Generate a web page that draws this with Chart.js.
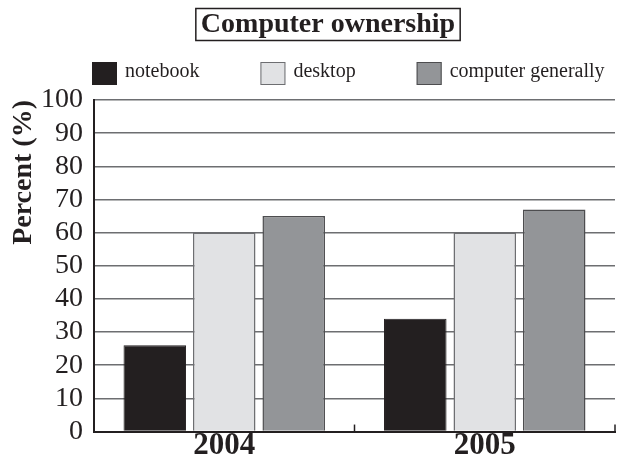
<!DOCTYPE html>
<html lang="en">
<head>
  <meta charset="UTF-8" />
  <title>Computer ownership</title>
  <script src="https://cdn.jsdelivr.net/npm/chart.js"></script>
  <style>
    html, body { margin: 0; padding: 0; background: #fff; }
    #wrap { width: 617px; height: 461px; }
  </style>
</head>
<body>
  <div id="wrap"><canvas id="ownershipChart"></canvas></div>

  <script>
    // Data
    const years = ['2004', '2005'];
    const notebook = [26, 34];
    const desktop = [60, 60];
    const computerGenerally = [65, 67];
    const yTicks = [0, 10, 20, 30, 40, 50, 60, 70, 80, 90, 100];

    const serif = "'Liberation Serif', 'DejaVu Serif', serif";
    const ink = '#231f20';

    // Boxed title and a single-row legend above the plot
    const header = {
      id: 'header',
      afterDraw(chart) {
        const ctx = chart.ctx;
        const area = chart.chartArea;
        ctx.save();

        // title
        const text = 'Computer ownership';
        const cx = 328;
        ctx.font = 'bold 28px ' + serif;
        ctx.fillStyle = ink;
        ctx.textAlign = 'center';
        ctx.textBaseline = 'middle';
        ctx.fillText(text, cx, 25);
        const w = ctx.measureText(text).width + 10;
        ctx.strokeStyle = ink;
        ctx.lineWidth = 1.5;
        ctx.strokeRect(cx - w / 2, 8.5, w, 32);

        // legend
        const boxW = 25, boxH = 23, gap = 61, top = 62;
        let x = area.left - 2;
        ctx.font = '20px ' + serif;
        ctx.textAlign = 'left';
        chart.data.datasets.forEach(ds => {
          ctx.fillStyle = ds.backgroundColor;
          ctx.fillRect(x, top, boxW, boxH);
          ctx.strokeStyle = ds.borderColor;
          ctx.lineWidth = 1;
          ctx.strokeRect(x + 0.5, top + 0.5, boxW - 1, boxH - 1);
          ctx.fillStyle = ink;
          ctx.fillText(ds.label, x + boxW + 8, top + boxH / 2 - 2);
          x += boxW + 8 + ctx.measureText(ds.label).width + gap;
        });
        ctx.restore();
      }
    };

    // Small upward ticks at the right edge of each year group
    const groupTicks = {
      id: 'groupTicks',
      afterDatasetsDraw(chart) {
        const x = chart.scales.x;
        const ctx = chart.ctx;
        const half = (x.getPixelForValue(1) - x.getPixelForValue(0)) / 2;
        ctx.save();
        ctx.strokeStyle = ink;
        ctx.lineWidth = 1.5;
        years.forEach((y, i) => {
          const px = x.getPixelForValue(i) + half;
          ctx.beginPath();
          ctx.moveTo(px, x.top);
          ctx.lineTo(px, x.top - 7);
          ctx.stroke();
        });
        ctx.restore();
      }
    };

    const ctx = document.getElementById('ownershipChart').getContext('2d');
    new Chart(ctx, {
      type: 'bar',
      data: {
        labels: years,
        datasets: [
          {
            label: 'notebook',
            data: notebook,
            backgroundColor: ink,
            borderColor: ink,
            borderWidth: 1
          },
          {
            label: 'desktop',
            data: desktop,
            backgroundColor: '#e1e2e4',
            borderColor: '#6d6e71',
            borderWidth: 1.5
          },
          {
            label: 'computer generally',
            data: computerGenerally,
            backgroundColor: '#939598',
            borderColor: '#4d4d4f',
            borderWidth: 1.5
          }
        ]
      },
      options: {
        responsive: true,
        maintainAspectRatio: false,
        animation: false,
        categoryPercentage: 0.8,
        barPercentage: 0.9,
        layout: { padding: { top: 100, right: 2, left: 0, bottom: 0 } },
        plugins: {
          title: { display: false },
          tooltip: { enabled: false },
          legend: { display: false }
        },
        scales: {
          x: {
            grid: { display: false, drawTicks: false },
            border: { display: true, color: ink, width: 2 },
            ticks: {
              color: ink,
              padding: 0,
              font: { family: serif, size: 31, weight: 'bold', lineHeight: 0.95 }
            }
          },
          y: {
            min: 0,
            max: 100,
            afterBuildTicks(scale) {
              scale.ticks = yTicks.map(v => ({ value: v }));
            },
            grid: { color: '#6d6e71', lineWidth: 1.5, drawTicks: false },
            border: { display: true, color: ink, width: 2 },
            ticks: {
              color: ink,
              padding: 11,
              autoSkip: false,
              font: { family: serif, size: 28 }
            },
            title: {
              display: true,
              text: 'Percent (%)',
              align: 'end',
              color: ink,
              padding: { top: 10, bottom: -8 },
              font: { family: serif, size: 28, weight: 'bold', lineHeight: 1 }
            }
          }
        }
      },
      plugins: [header, groupTicks]
    });
  </script>
</body>
</html>
